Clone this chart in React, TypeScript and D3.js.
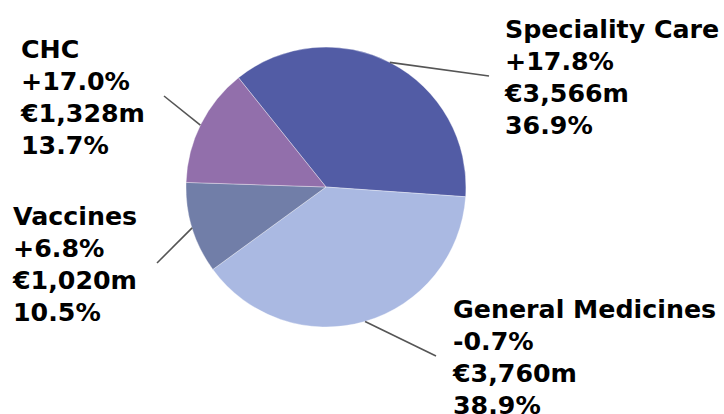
import React from "react";
import * as d3 from "d3";

const categories = ["Speciality Care", "General Medicines", "Vaccines", "CHC"];
const sales = [3566, 3760, 1020, 1328];
const growth = ["+17.8%", "-0.7%", "+6.8%", "+17.0%"];
const salesLabels = ["€3,566m", "€3,760m", "€1,020m", "€1,328m"];
const shares = ["36.9%", "38.9%", "10.5%", "13.7%"];
const colors = ["#525ca5", "#aab9e2", "#717ea8", "#926fab"];

// label layout (positions only)
const labelPos = [
  { x: 505, y: 38 },
  { x: 453, y: 318 },
  { x: 13, y: 225 },
  { x: 21, y: 58 },
];
const leaderStartDeg = [27.1, 163.8, 253, -63.8];
const leaderEnd = [
  { x: 489, y: 76 },
  { x: 436, y: 356 },
  { x: 157, y: 263 },
  { x: 164, y: 96 },
];

export default function App() {
  const W = 724, H = 414;
  const cx = 326, cy = 187, r = 140;
  const start = (-38.7 * Math.PI) / 180;
  const pie = d3.pie<number>().sort(null).value((d) => d).startAngle(start).endAngle(start + 2 * Math.PI);
  const arcs = pie(sales);
  const arc = d3.arc<d3.PieArcDatum<number>>().innerRadius(0).outerRadius(r);
  const lineH = 32;
  return (
    <svg width={W} height={H} style={{ position: "absolute", left: 0, top: 0 }}>
      <rect width={W} height={H} fill="#fff" />
      <g transform={`translate(${cx},${cy})`}>
        {arcs.map((a, i) => (
          <path key={i} d={arc(a) || ""} fill={colors[i]} stroke="#ffffff" strokeOpacity={0.35} strokeWidth={1} />
        ))}
      </g>
      {arcs.map((a, i) => {
        const e = leaderEnd[i];
        const ang = (leaderStartDeg[i] * Math.PI) / 180;
        const sx = cx + Math.sin(ang) * r;
        const sy = cy - Math.cos(ang) * r;
        return <line key={"l" + i} x1={sx} y1={sy} x2={e.x} y2={e.y} stroke="#555" strokeWidth={1.6} />;
      })}
      {categories.map((c, i) => {
        const lines = [c, growth[i], salesLabels[i], shares[i]];
        return (
          <text key={"t" + i} x={labelPos[i].x} y={labelPos[i].y} fontFamily="DejaVu Sans" fontWeight="bold" fontSize={25.3} fill="#000">
            {lines.map((t, j) => (
              <tspan key={j} x={labelPos[i].x} y={labelPos[i].y + j * lineH}>{t}</tspan>
            ))}
          </text>
        );
      })}
    </svg>
  );
}
